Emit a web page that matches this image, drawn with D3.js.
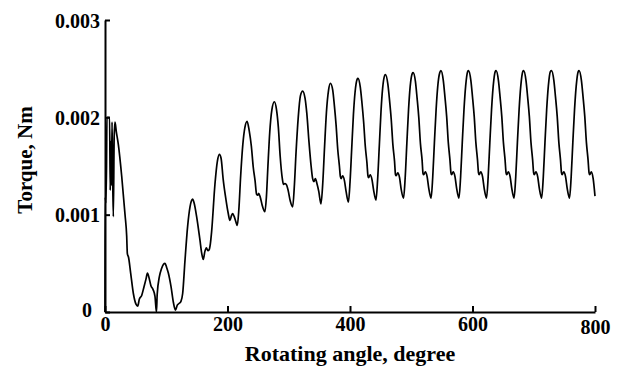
<!DOCTYPE html>
<html>
<head>
<meta charset="utf-8">
<script src="https://cdn.jsdelivr.net/npm/d3@7"></script>
<style>
  html, body { margin: 0; padding: 0; background: #fff; }
  svg { display: block; }
  text { font-family: "Liberation Serif", "Times New Roman", serif; font-weight: bold; fill: #000; }
</style>
</head>
<body>
<svg id="chart" width="625" height="374"></svg>
<script>
// ---- data: [rotating angle (degree), torque (Nm)] ----
const transientSegment = [
  [0, 0], [0.2, 0.00118], [1.5, 0.00112], [2.5, 0.00150], [3.2, 0.00200], [7.5, 0.00200],
  [8.5, 0.00125], [9.5, 0.00175], [10.5, 0.00130], [11.5, 0.00195], [12.5, 0.00140],
  [13.6, 0.00098], [15.0, 0.00180], [16.3, 0.00195], [18.5, 0.00185], [21.8, 0.00172],
  [27.2, 0.00140], [32.7, 0.00100], [35.4, 0.00078], [36.5, 0.00060], [38.5, 0.00056],
  [41.9, 0.00040], [46.3, 0.00019], [50.6, 0.00008], [53.4, 0.00006], [56.0, 0.00013],
  [59.9, 0.00017], [63.7, 0.00026], [67.0, 0.00034], [69.3, 0.00040], [72.0, 0.00035],
  [75.0, 0.00027], [78.5, 0.00023], [81.6, 0.00016], [84.0, 0.00000], [85.2, 0.00018],
  [88.7, 0.00036], [92.5, 0.00045], [95.5, 0.00049], [98.0, 0.00050], [100.5, 0.00046],
  [103.4, 0.00040], [107.8, 0.00026], [111.6, 0.00010], [115.0, 0.00002], [118.0, 0.00007],
  [121.3, 0.00009], [124.0, 0.00011], [126.8, 0.00019], [130.6, 0.00053], [134.9, 0.00088],
  [138.8, 0.00108], [141.0, 0.00114], [143.0, 0.00116], [145.5, 0.00112], [149.6, 0.00098],
  [155.0, 0.00074], [158.0, 0.00060], [160.5, 0.00054], [163.0, 0.00062], [165.5, 0.00066],
  [168.0, 0.00063], [170.0, 0.00064], [172.0, 0.00070], [174.0, 0.00082], [179.6, 0.00132],
  [183.5, 0.00155], [186.7, 0.00162], [189.5, 0.00158], [193.0, 0.00136], [197.6, 0.00115],
  [201.0, 0.00102], [204.0, 0.00094], [206.5, 0.00099], [208.5, 0.00101], [211.0, 0.00098],
  [213.5, 0.00093], [216.0, 0.00089], [218.5, 0.00105], [221.5, 0.00140], [225.0, 0.00172],
  [228.5, 0.00190], [232.0, 0.00196], [235.5, 0.00186], [239.0, 0.00170], [242.0, 0.00149],
  [245.0, 0.00135], [247.5, 0.00121], [249.5, 0.00120], [251.0, 0.00122], [253.5, 0.00118],
  [256.5, 0.00110], [261.0, 0.00103], [263.5, 0.00118], [266.0, 0.00150], [269.0, 0.00185],
  [272.5, 0.00208], [276.5, 0.00216], [280.0, 0.00208], [283.0, 0.00190], [286.0, 0.00160],
  [289.5, 0.00137], [291.5, 0.00131], [293.5, 0.00132], [296.0, 0.00131], [299.0, 0.00125],
  [302.5, 0.00114], [306.4, 0.00108], [309.0, 0.00128], [312.0, 0.00165], [315.5, 0.00200],
  [319.0, 0.00222], [322.7, 0.00227], [326.5, 0.00220], [329.5, 0.00204], [333.0, 0.00175],
  [336.5, 0.00150], [339.0, 0.00137], [341.0, 0.00134], [343.5, 0.00137], [346.0, 0.00132],
  [349.0, 0.00124], [352.6, 0.00111], [355.5, 0.00132], [358.5, 0.00170], [361.5, 0.00205],
  [365.0, 0.00228], [368.0, 0.00235]
];

const steadySegment = [
  [371.8, 0.00228], [374.5, 0.00212], [377.3, 0.00192], [380.0, 0.00167], [382.7, 0.00150],
  [384.3, 0.00139], [385.5, 0.00137], [388.0, 0.00140], [390.9, 0.00135], [393.6, 0.00124],
  [397.4, 0.00113], [400.1, 0.00134], [402.8, 0.00168], [405.6, 0.00203], [408.3, 0.00226],
  [411.6, 0.00239], [413.0, 0.00240],
  [416.8, 0.00231], [419.5, 0.00215], [422.3, 0.00195], [425.0, 0.00170], [427.7, 0.00153],
  [429.3, 0.00140], [430.4, 0.00138], [433.0, 0.00141], [435.9, 0.00136], [438.6, 0.00125],
  [442.4, 0.00115], [445.1, 0.00136], [447.8, 0.00170], [450.6, 0.00206], [453.3, 0.00230],
  [456.6, 0.00243], [458.0, 0.00244],
  [461.8, 0.00234], [464.5, 0.00218], [467.3, 0.00198], [470.0, 0.00172], [472.7, 0.00155],
  [474.3, 0.00141], [475.4, 0.00140], [478.0, 0.00143], [480.9, 0.00138], [483.6, 0.00126],
  [487.4, 0.00117], [490.1, 0.00138], [492.8, 0.00173], [495.6, 0.00208], [498.3, 0.00232],
  [501.6, 0.00245], [503.0, 0.00246],
  [506.8, 0.00237], [509.5, 0.00220], [512.3, 0.00200], [515.0, 0.00173], [517.7, 0.00156],
  [519.3, 0.00142], [520.4, 0.00141], [523.0, 0.00144], [525.9, 0.00139], [528.6, 0.00127],
  [532.4, 0.00117], [535.1, 0.00139], [537.8, 0.00174], [540.6, 0.00208], [543.3, 0.00232],
  [546.6, 0.00246], [548.5, 0.00248],
  [552.3, 0.00238], [555.0, 0.00221], [557.8, 0.00201], [560.5, 0.00174], [563.2, 0.00156],
  [564.8, 0.00143], [565.9, 0.00141], [568.5, 0.00144], [571.4, 0.00139], [574.1, 0.00127],
  [577.9, 0.00117], [580.6, 0.00139], [583.3, 0.00174], [586.1, 0.00208], [588.8, 0.00232],
  [592.1, 0.00247], [593.5, 0.00248],
  [597.3, 0.00238], [600.0, 0.00221], [602.8, 0.00201], [605.5, 0.00174], [608.2, 0.00156],
  [609.8, 0.00143], [610.9, 0.00141], [613.5, 0.00144], [616.4, 0.00139], [619.1, 0.00127],
  [622.9, 0.00117], [625.6, 0.00139], [628.3, 0.00174], [631.1, 0.00208], [633.8, 0.00232],
  [637.1, 0.00247], [638.5, 0.00248],
  [642.3, 0.00238], [645.0, 0.00221], [647.8, 0.00201], [650.5, 0.00174], [653.2, 0.00156],
  [654.8, 0.00143], [655.9, 0.00141], [658.5, 0.00144], [661.4, 0.00139], [664.1, 0.00127],
  [667.9, 0.00117], [670.6, 0.00139], [673.3, 0.00174], [676.1, 0.00208], [678.8, 0.00232],
  [682.1, 0.00247], [683.5, 0.00248],
  [687.3, 0.00238], [690.0, 0.00221], [692.8, 0.00201], [695.5, 0.00174], [698.2, 0.00156],
  [699.8, 0.00143], [700.9, 0.00141], [703.5, 0.00144], [706.4, 0.00139], [709.1, 0.00127],
  [712.9, 0.00117], [715.6, 0.00139], [718.3, 0.00174], [721.1, 0.00208], [723.8, 0.00232],
  [727.1, 0.00247], [729.0, 0.00248],
  [732.8, 0.00238], [735.5, 0.00221], [738.3, 0.00201], [741.0, 0.00174], [743.7, 0.00156],
  [745.3, 0.00143], [746.4, 0.00141], [749.0, 0.00144], [751.9, 0.00139], [754.6, 0.00127],
  [758.4, 0.00117], [761.1, 0.00139], [763.8, 0.00174], [766.6, 0.00208], [769.3, 0.00232],
  [772.6, 0.00247], [774.0, 0.00248],
  [777.8, 0.00238], [780.5, 0.00221], [783.3, 0.00201], [786.0, 0.00174], [788.7, 0.00156],
  [790.3, 0.00143], [791.4, 0.00141], [794.0, 0.00144], [797.0, 0.00137], [800.0, 0.00119]
];

const xTickValues = [0, 200, 400, 600, 800];
const xTickLabels = ["0", "200", "400", "600", "800"];
const yTickValues = [0, 0.001, 0.002, 0.003];
const yTickLabels = ["0", "0.001", "0.002", "0.003"];
const xTitle = "Rotating angle, degree";
const yTitle = "Torque, Nm";

// ---- layout ----
const margin = { left: 105, right: 30, top: 20, bottom: 62 };
const W = 625, H = 374;
const svg = d3.select("#chart");

const x = d3.scaleLinear().domain([0, 800]).range([margin.left, W - margin.right]);
const y = d3.scaleLinear().domain([0, 0.003]).range([H - margin.bottom, margin.top]);

const points = transientSegment.concat(steadySegment);

// curve
const line = d3.line()
  .x(d => x(d[0]))
  .y(d => y(d[1]))
  .curve(d3.curveMonotoneX);

svg.append("path")
  .datum(points)
  .attr("d", line)
  .attr("fill", "none")
  .attr("stroke", "#000")
  .attr("stroke-width", 1.7)
  .attr("stroke-linejoin", "round");

// x axis
const xAxis = d3.axisBottom(x)
  .tickValues(xTickValues)
  .tickFormat((d, i) => xTickLabels[i])
  .tickSizeInner(-6)
  .tickSizeOuter(0);

const gx = svg.append("g")
  .attr("transform", `translate(0,${y(0)})`)
  .call(xAxis);
gx.select(".domain").attr("stroke", "#000").attr("stroke-width", 2);
gx.selectAll(".tick line").attr("stroke", "#000").attr("stroke-width", 2);
gx.selectAll(".tick text")
  .attr("font-size", 20)
  .attr("font-family", "'Liberation Serif', 'Times New Roman', serif")
  .attr("font-weight", "bold")
  .attr("dy", null)
  .attr("y", (d) => d === 800 ? 22 : 19);

// y axis
const yAxis = d3.axisLeft(y)
  .tickValues(yTickValues)
  .tickFormat((d, i) => yTickLabels[i])
  .tickSizeInner(-5)
  .tickSizeOuter(0);

const gy = svg.append("g")
  .attr("transform", `translate(${x(0)},0)`)
  .call(yAxis);
gy.select(".domain").attr("stroke", "#000").attr("stroke-width", 2);
gy.selectAll(".tick line").attr("stroke", "#000").attr("stroke-width", 2);
gy.selectAll(".tick text")
  .attr("font-size", 20)
  .attr("font-family", "'Liberation Serif', 'Times New Roman', serif")
  .attr("font-weight", "bold")
  .attr("dy", null)
  .attr("x", d => d === 0 ? -13 : -5)
  .attr("y", d => d === 0 ? 4 : 7);

// titles
svg.append("text")
  .attr("x", 350)
  .attr("y", 361)
  .attr("text-anchor", "middle")
  .attr("font-size", 22)
  .text(xTitle);

svg.append("text")
  .attr("transform", "translate(32,160) rotate(-90)")
  .attr("text-anchor", "middle")
  .attr("font-size", 21)
  .text(yTitle);
</script>
</body>
</html>
